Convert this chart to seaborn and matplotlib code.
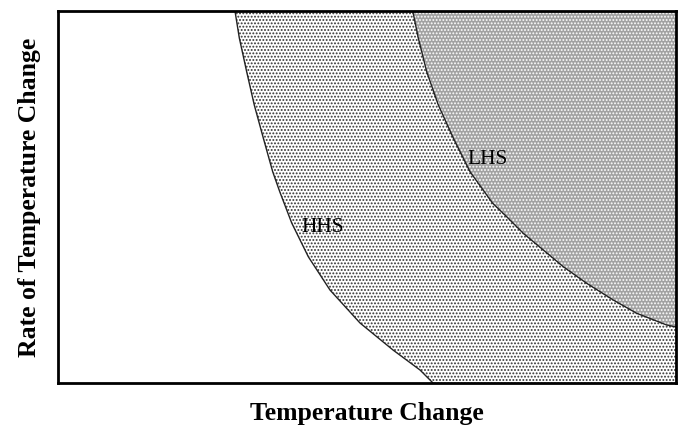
import numpy as np
import pandas as pd
import matplotlib
matplotlib.use("Agg")
import matplotlib.pyplot as plt
import seaborn as sns

# boundary curves, axis units 0-10 on both axes
hhs_x = [2.864, 2.934, 3.053, 3.176, 3.322, 3.474, 3.590, 3.782, 4.050,
         4.401, 4.887, 5.421, 5.858, 6.068]
hhs_y = [10.0, 9.274, 8.368, 7.473, 6.586, 5.680, 5.134, 4.301, 3.395,
         2.5, 1.613, 0.887, 0.349, 0.0]
lhs_x = [5.740, 5.830, 5.966, 6.154, 6.396, 6.667, 7.030, 7.260, 7.529,
         7.853, 8.176, 8.555, 8.985, 9.364, 9.850, 10.0]
lhs_y = [10.0, 9.274, 8.368, 7.473, 6.586, 5.680, 4.839, 4.470, 4.024,
         3.575, 3.126, 2.680, 2.231, 1.874, 1.559, 1.505]
labels = ["HHS", "LHS"]
label_x = [4.288, 6.958]
label_y = [4.167, 5.995]

sns.set_style("white")
plt.rcParams["font.family"] = ["Liberation Serif", "DejaVu Serif"]
plt.rcParams["hatch.linewidth"] = 0.9

fig = plt.figure(figsize=(6.78, 4.26), dpi=100)
ax = fig.add_axes([58 / 678, 43 / 426, 618 / 678, 372 / 426])
xmin, xmax, ymin, ymax = 0, 10, 0, 10

# HHS region: right of outer curve
ax.fill(hhs_x + [xmax, xmax], hhs_y + [ymin, ymax], facecolor="white",
        edgecolor="#333333", hatch=".....", linewidth=0)
# LHS region: right of inner curve
ax.fill(lhs_x + [xmax], lhs_y + [ymax], facecolor="#a2a2a2",
        edgecolor="white", hatch=".....", linewidth=0)

df1 = pd.DataFrame({"x": hhs_x, "y": hhs_y})
df2 = pd.DataFrame({"x": lhs_x, "y": lhs_y})
sns.lineplot(data=df1, x="x", y="y", sort=False, estimator=None, color="#222222", linewidth=1, ax=ax)
sns.lineplot(data=df2, x="x", y="y", sort=False, estimator=None, color="#222222", linewidth=1, ax=ax)

for t, xx, yy in zip(labels, label_x, label_y):
    ax.text(xx, yy, t, fontsize=15.5, ha="center", va="center", color="black")

ax.set_xlim(xmin, xmax)
ax.set_ylim(ymin, ymax)
ax.set_xticks([])
ax.set_yticks([])
ax.set_xlabel("Temperature Change", fontsize=18.5, fontweight="bold", labelpad=14, color="black")
ax.set_ylabel("Rate of Temperature Change", fontsize=18.5, fontweight="bold", labelpad=12, color="black")
for s in ax.spines.values():
    s.set_color("black")
    s.set_linewidth(2)
    s.set_visible(True)

fig.savefig("out.png", dpi=100)
